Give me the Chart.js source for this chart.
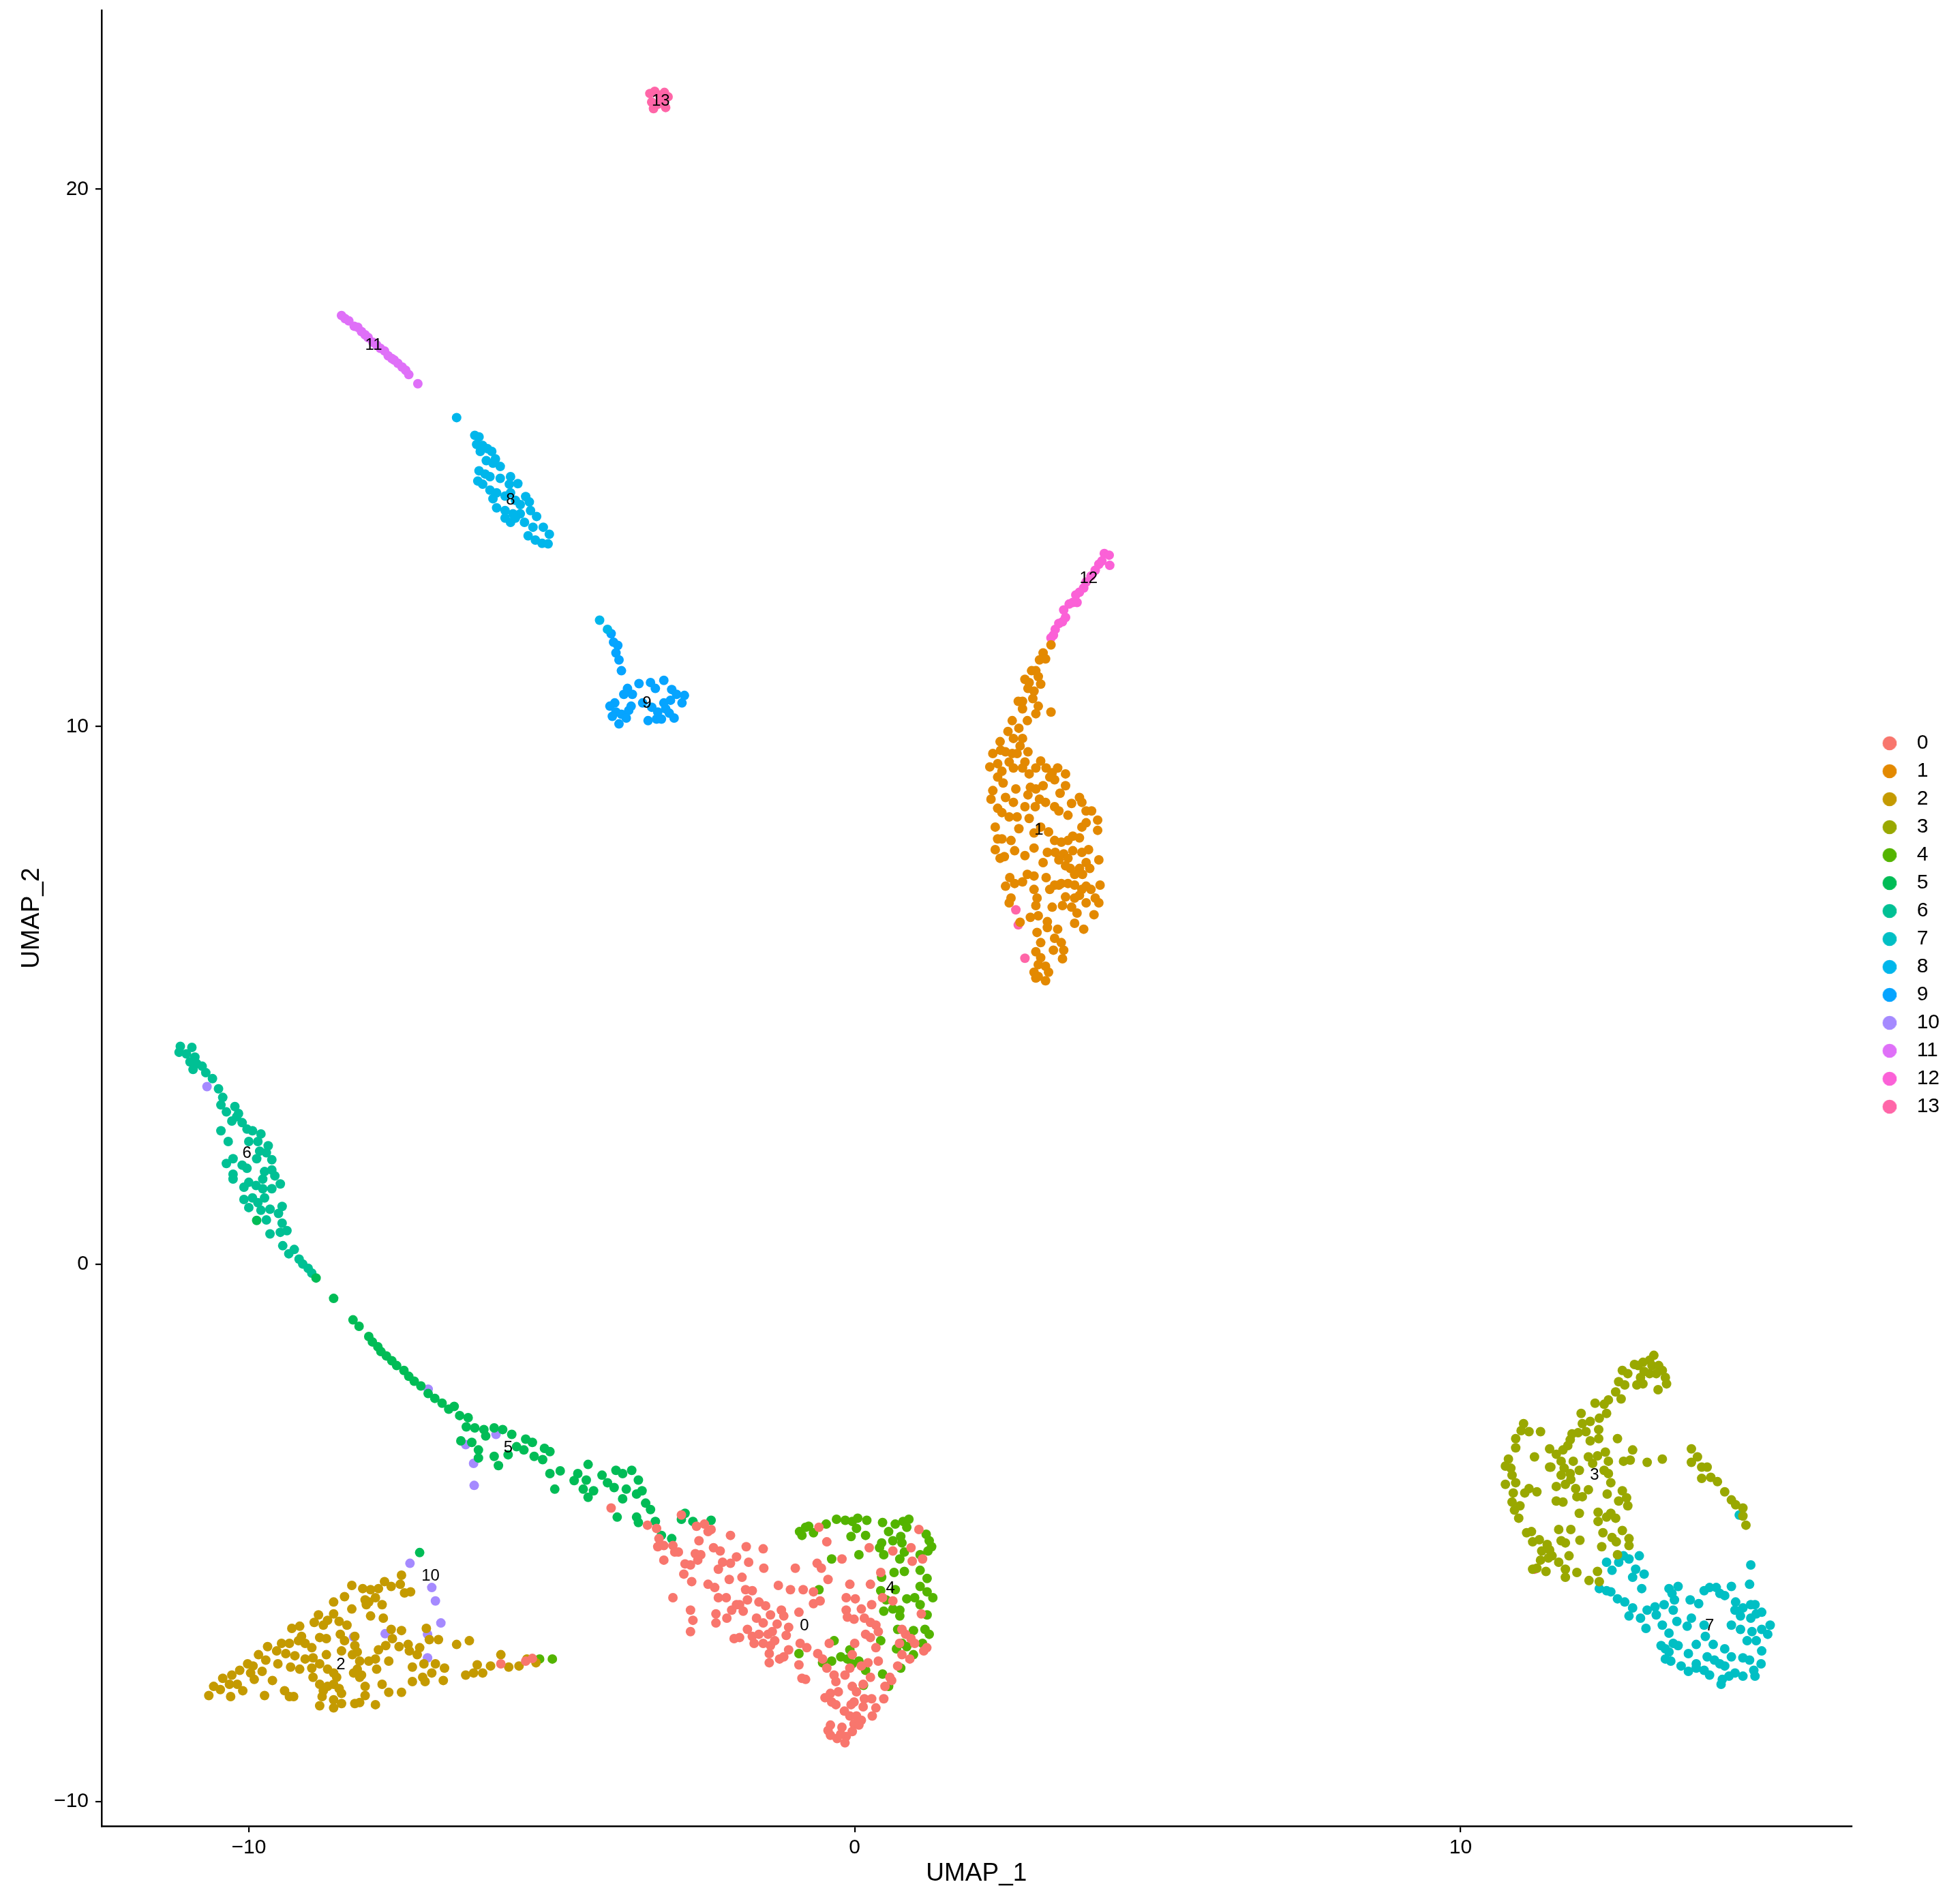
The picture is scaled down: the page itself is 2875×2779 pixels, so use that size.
<!DOCTYPE html>
<html>
<head>
<meta charset="utf-8">
<title>UMAP clusters</title>
<script src="https://cdn.jsdelivr.net/npm/chart.js@4.4.1/dist/chart.umd.min.js"></script>
<style>
  html, body { margin: 0; padding: 0; background: #fff; }
  canvas { display: block; width: 2875px; height: 2779px; }
</style>
</head>
<body>
<canvas id="umap" width="2875" height="2779"></canvas>
<script>
var clusterNames = ["0", "1", "2", "3", "4", "5", "6", "7", "8", "9", "10", "11", "12", "13"];
var clusterColors = ["#F8766D", "#E38900", "#C49A00", "#99A800", "#53B400", "#00BC56", "#00C094",
                     "#00BFC4", "#00B6EB", "#06A4FF", "#A58AFF", "#DF70F8", "#FB61D7", "#FF66A8"];

// axis limits and ticks
var xRange = [-12.43, 16.45];
var yRange = [-10.46, 23.33];
var xTicks = [-10, 0, 10];
var yTicks = [-10, 0, 10, 20];

// cluster label positions (centre of each cluster)
var labelX = [-0.83, 3.04, -8.48, 12.21, 0.59, -5.72, -10.03, 14.11, -5.68, -3.43, -7.00, -7.94, 3.86, -3.20];
var labelY = [-6.74, 8.07, -7.46, -3.93, -6.04, -3.42, 2.06, -6.74, 14.21, 10.43, -5.81, 17.10, 12.76, 21.64];

// cells per cluster, [UMAP_1, UMAP_2]
var c0 = [[-4.02,-4.54],[-3.42,-4.86],[-3.27,-4.92],[-3.23,-5.11],[-3.25,-5.26],[-3.15,-5.24],[-3.00,-5.24],[-2.97,-5.36],
  [-2.91,-5.36],[-3.15,-5.51],[-2.86,-4.67],[-2.61,-4.88],[-2.48,-4.84],[-2.42,-4.98],[-2.37,-4.94],[-2.57,-5.15],
  [-2.63,-5.39],[-2.54,-5.41],[-2.59,-5.51],[-2.80,-5.58],[-2.71,-5.60],[-2.82,-5.77],[-2.69,-5.91],[-3.00,-6.21],
  [-2.71,-6.44],[-2.67,-6.63],[-2.71,-6.84],[-2.29,-6.51],[-2.29,-6.68],[-2.42,-5.96],[-2.31,-6.02],[-2.25,-6.21],
  [-2.12,-6.21],[-2.11,-6.59],[-2.03,-6.44],[-1.95,-6.34],[-2.05,-5.05],[-1.79,-5.26],[-1.51,-5.30],[-2.33,-5.28],
  [-2.22,-5.34],[-2.18,-5.55],[-2.25,-5.68],[-2.05,-5.57],[-1.95,-5.45],[-1.75,-5.55],[-1.50,-5.66],[-2.07,-5.87],
  [-1.86,-5.83],[-1.80,-6.06],[-1.69,-6.08],[-1.90,-6.34],[-1.84,-6.46],[-1.77,-6.25],[-1.58,-6.29],[-1.47,-6.36],
  [-1.39,-6.53],[-1.62,-6.59],[-1.51,-6.68],[-1.77,-6.80],[-1.69,-6.93],[-1.58,-6.89],[-1.43,-6.89],[-1.36,-6.84],
  [-1.28,-6.70],[-1.21,-6.44],[-1.17,-6.55],[-1.09,-6.76],[-1.13,-6.91],[-1.99,-6.97],[-1.90,-6.95],[-1.66,-7.06],
  [-1.51,-7.06],[-1.39,-7.10],[-1.32,-7.01],[-1.41,-7.25],[-1.24,-7.35],[-1.17,-7.31],[-1.09,-7.18],[-1.41,-7.42],
  [-1.26,-5.98],[-1.06,-6.06],[-0.85,-6.06],[-0.68,-6.10],[-0.92,-6.48],[-0.98,-5.66],[-0.68,-6.32],[-0.57,-6.27],
  [-0.62,-5.57],[-0.55,-5.66],[-0.44,-5.87],[-0.46,-5.17],[-0.59,-4.90],[-0.21,-5.49],[-0.90,-7.06],[-0.79,-7.14],
  [-0.92,-7.46],[-0.87,-7.71],[-0.81,-7.73],[-0.61,-7.25],[-0.53,-7.35],[-0.42,-7.06],[-0.46,-7.52],[-0.34,-7.65],
  [-0.31,-7.77],[-0.40,-7.99],[-0.49,-8.07],[-0.38,-8.15],[-0.31,-8.20],[-0.27,-7.96],[-0.16,-7.65],[-0.08,-7.52],
  [0.00,-7.06],[-0.04,-7.27],[-0.08,-5.96],[-0.14,-6.21],[0.01,-6.23],[-0.14,-6.44],[-0.12,-6.57],[-0.01,-6.61],
  [0.11,-6.42],[0.16,-6.59],[0.28,-6.34],[0.26,-5.96],[0.24,-5.28],[0.43,-5.74],[0.46,-6.21],[0.63,-6.27],
  [0.63,-5.34],[0.93,-5.28],[0.95,-5.53],[1.12,-5.49],[1.06,-4.94],[1.10,-6.51],[0.26,-6.67],[0.35,-6.72],
  [0.39,-6.84],[0.18,-6.89],[0.26,-6.95],[0.35,-7.14],[0.22,-7.42],[0.39,-7.39],[0.11,-7.48],[0.26,-7.69],
  [0.14,-7.82],[-0.04,-7.86],[0.03,-7.96],[-0.01,-8.15],[0.16,-8.09],[0.28,-8.09],[0.48,-8.09],[-0.06,-8.20],
  [0.14,-8.24],[0.35,-8.26],[-0.17,-8.32],[-0.08,-8.41],[0.03,-8.41],[0.29,-8.41],[0.11,-8.49],[-0.01,-8.56],
  [-0.21,-8.62],[-0.40,-8.58],[-0.44,-8.68],[-0.40,-8.77],[-0.29,-8.83],[-0.16,-8.91],[-0.04,-8.70],[-0.14,-8.79],
  [-0.23,-8.75],[0.07,-8.58],[0.58,-7.69],[0.50,-7.86],[0.61,-7.75],[0.71,-7.48],[0.78,-7.27],[0.74,-7.06],
  [0.84,-6.89],[0.93,-6.97],[0.91,-7.35],[0.99,-7.06],[1.14,-7.20],[1.19,-7.14],[0.78,-6.80],[-5.84,-7.44],
  [-5.43,-7.39],[-5.32,-7.34]];

var c1 = [[3.24,11.52],[3.11,11.37],[3.05,11.24],[3.15,11.26],[2.92,11.04],[2.99,11.04],[2.81,10.88],[2.88,10.82],
  [3.03,10.93],[3.07,10.79],[2.96,10.66],[2.86,10.71],[2.77,10.47],[2.70,10.47],[2.94,10.52],[3.03,10.38],
  [2.99,10.24],[2.77,10.33],[2.85,10.11],[3.24,10.27],[2.60,10.11],[2.53,9.91],[2.71,9.97],[2.62,9.78],
  [2.77,9.78],[2.73,9.64],[2.40,9.72],[2.41,9.56],[2.28,9.50],[2.23,9.25],[2.36,9.31],[2.49,9.53],
  [2.60,9.50],[2.68,9.50],[2.86,9.53],[2.81,9.34],[2.62,9.23],[2.55,9.34],[2.43,9.17],[2.36,9.06],
  [2.45,8.95],[2.28,8.81],[2.25,8.65],[2.36,8.48],[2.43,8.40],[2.55,8.32],[2.68,8.32],[2.49,8.68],
  [2.62,8.59],[2.66,8.84],[2.77,9.23],[2.88,9.12],[2.99,9.23],[3.07,9.36],[3.16,9.23],[3.26,9.14],
  [3.35,9.23],[3.48,9.12],[3.30,9.01],[3.22,9.06],[3.11,8.90],[2.99,8.84],[2.90,8.87],[2.86,8.73],
  [2.81,8.51],[2.88,8.29],[2.98,8.51],[3.15,8.59],[3.05,8.65],[3.30,8.51],[3.37,8.43],[3.52,8.35],
  [3.39,8.76],[3.48,8.90],[3.58,8.57],[3.71,8.68],[3.75,8.59],[3.82,8.43],[3.91,8.43],[3.82,8.21],
  [4.01,8.26],[4.01,8.07],[3.75,8.13],[3.71,7.93],[3.60,7.96],[3.52,7.88],[3.41,7.85],[3.30,7.88],
  [3.20,8.04],[3.07,8.13],[2.96,8.02],[2.96,7.74],[2.81,7.60],[2.64,7.69],[2.58,7.88],[2.43,7.91],
  [2.36,7.91],[2.32,7.71],[2.40,7.55],[2.47,7.58],[2.71,8.10],[2.32,8.13],[3.31,7.66],[3.37,7.52],
  [3.18,7.66],[3.11,7.47],[3.45,7.63],[3.52,7.55],[3.60,7.69],[3.75,7.66],[3.86,7.71],[4.03,7.52],
  [3.82,7.47],[3.71,7.36],[3.56,7.36],[3.48,7.41],[3.88,7.36],[3.76,7.25],[3.63,7.25],[3.63,7.05],
  [3.52,7.08],[3.41,7.08],[3.30,7.05],[3.22,6.97],[3.16,7.19],[2.96,6.97],[2.85,7.25],[2.96,7.22],
  [2.77,7.11],[2.64,7.08],[2.56,7.19],[2.49,7.03],[2.58,6.81],[2.55,6.72],[2.73,6.36],[2.90,6.45],
  [3.03,6.48],[2.99,6.67],[3.01,6.81],[3.18,6.37],[3.26,6.64],[3.43,6.67],[3.58,6.64],[3.63,6.81],
  [3.71,6.86],[3.82,6.72],[3.67,6.53],[3.63,6.34],[3.78,6.23],[3.95,6.50],[4.03,6.72],[3.97,6.81],
  [4.05,7.05],[3.90,6.97],[3.82,7.03],[3.75,6.97],[3.48,6.83],[3.37,7.05],[3.18,6.26],[3.35,6.23],
  [3.30,6.06],[3.01,6.17],[3.07,5.98],[3.41,5.98],[3.45,5.84],[3.43,5.68],[3.28,5.84],[2.99,5.81],
  [3.07,5.70],[3.03,5.57],[3.15,5.54],[3.20,5.43],[2.96,5.43],[3.03,5.35],[3.15,5.27],[2.99,5.32]];

var c2 = [[-10.66,-8.03],[-10.58,-7.86],[-10.47,-7.92],[-10.43,-7.71],[-10.32,-7.82],[-10.30,-8.05],[-10.19,-7.82],[-10.10,-7.94],
  [-10.28,-7.65],[-10.15,-7.56],[-10.02,-7.44],[-9.93,-7.48],[-9.97,-7.61],[-9.91,-7.73],[-9.84,-7.27],[-9.78,-7.58],
  [-9.69,-7.12],[-9.72,-7.37],[-9.61,-7.75],[-9.54,-7.20],[-9.52,-7.44],[-9.46,-7.06],[-9.33,-7.06],[-9.41,-7.94],
  [-9.33,-8.05],[-9.26,-8.05],[-9.74,-8.03],[-9.39,-7.25],[-9.24,-7.29],[-9.31,-7.50],[-9.16,-7.54],[-9.29,-6.78],
  [-9.16,-6.74],[-9.13,-6.93],[-9.18,-7.01],[-9.07,-7.06],[-9.07,-7.35],[-8.96,-7.14],[-8.94,-7.33],[-8.96,-7.52],
  [-8.94,-7.69],[-8.83,-6.95],[-8.92,-6.67],[-8.85,-6.53],[-8.77,-6.72],[-8.70,-6.63],[-8.60,-6.51],[-8.60,-6.29],
  [-8.51,-6.65],[-8.38,-6.72],[-8.49,-6.89],[-8.72,-6.97],[-8.72,-7.27],[-8.83,-7.44],[-8.70,-7.54],[-8.60,-7.61],
  [-8.55,-7.69],[-8.47,-7.20],[-8.42,-7.01],[-8.25,-6.93],[-8.25,-7.10],[-8.29,-7.27],[-8.21,-7.22],[-8.17,-7.39],
  [-8.21,-7.54],[-8.17,-7.69],[-8.08,-7.86],[-8.14,-7.65],[-8.27,-7.61],[-8.83,-7.82],[-8.77,-7.94],[-8.70,-7.86],
  [-8.60,-7.82],[-8.51,-7.90],[-8.47,-7.99],[-8.79,-8.05],[-8.60,-8.11],[-8.83,-8.22],[-8.60,-8.26],[-8.47,-8.18],
  [-8.25,-8.18],[-8.17,-8.16],[-8.08,-8.03],[-7.91,-8.20],[-8.42,-6.19],[-8.30,-5.98],[-8.12,-6.04],[-7.99,-6.06],
  [-7.86,-6.04],[-7.91,-6.21],[-8.02,-6.29],[-8.08,-6.25],[-8.06,-6.34],[-7.80,-6.34],[-7.78,-6.59],[-7.99,-6.55],
  [-8.30,-6.42],[-7.76,-5.91],[-7.65,-6.00],[-7.48,-5.79],[-7.50,-5.96],[-7.43,-6.12],[-7.33,-6.10],[-7.65,-6.80],
  [-7.48,-6.82],[-7.63,-6.97],[-7.74,-7.10],[-7.86,-7.18],[-7.91,-7.35],[-8.02,-7.39],[-7.69,-7.39],[-7.89,-7.54],
  [-7.52,-7.12],[-7.37,-7.08],[-7.35,-7.20],[-7.18,-7.14],[-7.22,-7.27],[-7.07,-6.78],[-7.02,-6.99],[-6.87,-6.99],
  [-6.57,-7.08],[-6.36,-7.01],[-7.11,-7.44],[-6.92,-7.44],[-6.98,-7.61],[-6.77,-7.52],[-6.79,-7.75],[-7.13,-7.69],
  [-7.09,-7.77],[-7.30,-7.77],[-7.30,-7.50],[-7.80,-7.82],[-7.69,-7.97],[-7.48,-7.97],[-6.42,-7.65],[-6.23,-7.46],
  [-6.29,-7.61],[-6.14,-7.61],[-6.01,-7.48],[-5.84,-7.27],[-5.71,-7.50],[-5.54,-7.48],[-5.41,-7.35],[-5.26,-7.42]];

var c3 = [[13.19,-1.70],[13.12,-1.79],[13.01,-1.83],[12.93,-1.89],[12.87,-1.87],[13.16,-1.89],[13.27,-1.89],[13.33,-1.98],
  [13.23,-2.04],[13.12,-2.04],[13.03,-2.00],[12.97,-2.11],[13.38,-2.11],[13.40,-2.23],[13.26,-2.34],[13.01,-2.23],
  [12.91,-2.25],[12.67,-1.98],[12.76,-2.04],[12.61,-2.19],[12.71,-2.25],[12.56,-2.38],[12.65,-2.51],[12.44,-2.53],
  [12.37,-2.61],[12.41,-2.78],[12.22,-2.59],[12.29,-2.87],[12.14,-2.93],[11.99,-2.78],[12.01,-2.97],[12.07,-3.12],
  [12.28,-3.08],[12.28,-3.25],[12.14,-3.29],[11.84,-3.16],[11.94,-3.14],[11.81,-3.27],[11.77,-3.38],[11.69,-3.46],
  [11.47,-3.44],[11.32,-3.12],[11.04,-2.97],[11.00,-3.10],[11.13,-3.12],[10.91,-3.25],[10.91,-3.42],[10.79,-3.63],
  [10.74,-3.76],[10.83,-3.80],[10.85,-3.93],[10.74,-4.10],[10.91,-4.07],[10.87,-4.26],[11.06,-4.26],[11.13,-4.18],
  [11.26,-4.24],[10.85,-4.43],[10.98,-4.50],[10.89,-4.58],[10.96,-4.73],[11.09,-5.00],[11.17,-4.98],[11.19,-5.17],
  [11.30,-5.13],[11.43,-5.22],[11.34,-5.34],[11.47,-5.32],[11.51,-5.43],[11.45,-5.47],[11.32,-5.51],[11.26,-5.66],
  [11.19,-5.68],[11.41,-5.72],[11.62,-5.55],[11.73,-5.68],[11.73,-5.83],[11.92,-5.74],[12.12,-5.89],[12.26,-5.72],
  [12.29,-5.91],[11.66,-5.15],[11.73,-5.19],[11.79,-5.43],[11.62,-4.94],[11.82,-4.94],[11.97,-5.14],[11.96,-4.64],
  [11.58,-4.41],[11.69,-4.43],[11.58,-4.14],[11.73,-4.10],[11.49,-3.78],[11.58,-3.54],[11.66,-3.67],[11.71,-3.80],
  [11.66,-3.93],[11.81,-3.90],[11.86,-3.67],[11.82,-4.01],[11.96,-3.84],[11.90,-4.18],[11.92,-4.33],[12.01,-4.33],
  [12.11,-4.20],[12.11,-3.59],[12.18,-3.71],[12.26,-3.57],[12.39,-3.50],[12.44,-3.67],[12.37,-3.84],[12.44,-3.90],
  [12.48,-4.07],[12.42,-4.28],[12.27,-4.62],[12.27,-4.79],[12.41,-4.71],[12.56,-4.73],[12.48,-4.64],[12.35,-5.00],
  [12.33,-5.26],[12.50,-5.09],[12.57,-5.17],[12.67,-4.96],[12.78,-5.11],[12.78,-5.24],[12.59,-5.41],[12.67,-4.22],
  [12.74,-4.35],[12.61,-4.41],[12.76,-4.50],[12.59,-3.25],[12.69,-3.67],[12.80,-3.65],[12.84,-3.46],[13.08,-3.69],
  [13.33,-3.63],[13.81,-3.44],[13.91,-3.59],[13.81,-3.69],[13.98,-3.78],[14.07,-3.78],[13.98,-3.99],[14.13,-3.97],
  [14.24,-4.05],[14.36,-4.24],[14.47,-4.39],[14.54,-4.48],[14.66,-4.54],[14.66,-4.69],[14.71,-4.86],[11.22,-3.59],
  [11.47,-3.78]];

var c4 = [[-0.91,-4.98],[-0.81,-4.90],[-0.76,-4.88],[-0.68,-5.00],[-0.87,-5.05],[-0.47,-4.84],[-0.30,-4.75],[-0.155,-4.77],
  [-0.04,-4.79],[0.05,-4.73],[0.20,-4.77],[0.03,-4.92],[-0.06,-5.07],[0.18,-5.05],[0.07,-5.41],[-0.38,-5.49],
  [0.46,-4.81],[0.67,-4.84],[0.80,-4.79],[0.895,-4.75],[0.86,-4.90],[0.56,-4.98],[0.76,-5.07],[0.445,-5.19],
  [0.63,-5.15],[0.78,-5.19],[0.82,-5.36],[0.745,-5.49],[0.48,-5.41],[0.41,-5.28],[1.18,-5.03],[1.23,-5.15],
  [1.27,-5.26],[1.21,-5.34],[1.08,-5.41],[1.08,-5.70],[1.195,-5.85],[1.08,-6.00],[1.195,-6.10],[1.29,-6.21],
  [0.99,-6.21],[1.08,-6.34],[0.86,-6.23],[0.65,-5.74],[0.82,-5.72],[0.445,-5.83],[0.43,-6.08],[0.67,-6.06],
  [0.52,-6.25],[0.48,-6.46],[0.63,-6.42],[0.745,-6.55],[1.195,-6.53],[0.71,-6.80],[0.97,-6.82],[1.16,-6.80],
  [1.23,-6.89],[1.12,-7.06],[0.78,-7.06],[0.86,-7.12],[0.97,-7.27],[0.69,-7.16],[0.76,-7.52],[-0.59,-6.06],
  [-0.34,-7.01],[-0.92,-7.25],[-0.53,-7.42],[-0.38,-7.39],[-0.23,-7.31],[-0.08,-7.18],[-0.12,-7.35],[-0.04,-7.44],
  [0.07,-7.39],[0.18,-7.56],[0.145,-7.84],[0.46,-7.63],[0.56,-7.86],[0.43,-7.01],[0.745,-6.44],[-5.20,-7.35],
  [-4.99,-7.35]];

var c5 = [[-9.87,0.81],[-8.89,-0.26],[-8.60,-0.64],[-8.28,-1.04],[-8.18,-1.16],[-8.02,-1.35],[-7.96,-1.45],[-7.87,-1.54],
  [-7.82,-1.63],[-7.73,-1.71],[-7.64,-1.80],[-7.56,-1.89],[-7.44,-1.98],[-7.36,-2.09],[-7.27,-2.18],[-7.16,-2.27],
  [-7.04,-2.41],[-6.93,-2.50],[-6.81,-2.59],[-6.70,-2.70],[-6.61,-2.65],[-6.52,-2.82],[-6.38,-2.86],[-6.41,-3.03],
  [-6.27,-3.05],[-6.12,-3.08],[-5.95,-3.05],[-5.81,-3.08],[-5.66,-3.17],[-6.09,-3.20],[-6.50,-3.29],[-6.32,-3.32],
  [-6.21,-3.46],[-6.21,-3.61],[-5.95,-3.58],[-5.88,-3.75],[-5.72,-3.55],[-5.58,-3.40],[-5.43,-3.26],[-5.32,-3.32],
  [-5.46,-3.46],[-5.29,-3.58],[-5.12,-3.43],[-5.03,-3.49],[-5.15,-3.64],[-5.03,-3.90],[-4.86,-3.85],[-4.95,-4.19],
  [-4.57,-3.90],[-4.63,-4.03],[-4.40,-3.73],[-4.43,-4.02],[-4.48,-4.19],[-4.31,-4.22],[-4.40,-4.34],[-4.17,-3.93],
  [-4.08,-4.07],[-3.94,-3.84],[-3.83,-3.90],[-3.68,-3.84],[-3.97,-4.16],[-3.77,-4.19],[-3.57,-4.02],[-3.51,-4.22],
  [-3.83,-4.37],[-3.60,-4.28],[-3.45,-4.45],[-3.37,-4.57],[-3.92,-4.71],[-3.60,-4.71],[-3.57,-4.81],[-3.29,-4.79],
  [-3.19,-5.05],[-3.02,-5.11],[-2.80,-4.64],[-2.86,-4.75],[-2.67,-4.79],[-2.37,-4.77],[-7.18,-5.37]];

var c6 = [[-11.13,4.05],[-11.15,3.94],[-10.94,4.03],[-11.03,3.91],[-10.89,3.85],[-10.97,3.76],[-10.86,3.73],[-10.77,3.68],
  [-10.92,3.62],[-10.71,3.56],[-10.60,3.45],[-10.50,3.26],[-10.43,3.10],[-10.46,2.96],[-10.23,2.93],[-10.37,2.83],
  [-10.17,2.80],[-10.28,2.66],[-10.11,2.63],[-10.20,2.74],[-10.03,2.51],[-9.94,2.48],[-9.80,2.42],[-10.46,2.48],
  [-10.34,2.28],[-10.00,2.28],[-9.85,2.28],[-9.68,2.20],[-9.82,2.10],[-9.71,2.07],[-9.62,1.94],[-9.87,1.96],
  [-10.37,1.87],[-10.26,1.96],[-10.11,1.84],[-10.03,1.78],[-10.26,1.67],[-10.26,1.58],[-9.74,1.72],[-9.62,1.75],
  [-9.57,1.64],[-9.77,1.58],[-9.48,1.49],[-9.62,1.40],[-10.08,1.43],[-10.00,1.52],[-9.88,1.46],[-9.77,1.40],
  [-10.08,1.20],[-9.94,1.23],[-9.85,1.14],[-10.00,1.05],[-9.74,1.23],[-9.80,1.00],[-9.65,1.02],[-9.45,1.07],
  [-9.51,0.94],[-9.71,0.82],[-9.45,0.76],[-9.37,0.62],[-9.65,0.56],[-9.48,0.59],[-9.44,0.34],[-9.25,0.27],
  [-9.34,0.19],[-9.17,0.09],[-9.11,0.00],[-9.02,-0.08],[-8.96,-0.17]];

var c7 = [[12.41,-5.55],[12.50,-5.70],[12.69,-5.43],[12.78,-5.49],[12.61,-5.55],[12.95,-5.43],[12.89,-5.68],[13.03,-5.77],
  [12.84,-5.83],[12.99,-6.04],[12.29,-6.04],[12.41,-6.08],[12.48,-6.10],[12.59,-6.23],[12.71,-6.29],[12.84,-6.40],
  [12.78,-6.55],[12.97,-6.59],[13.06,-6.78],[13.08,-6.44],[13.21,-6.38],[13.23,-6.53],[13.33,-6.72],[13.44,-6.87],
  [13.36,-6.34],[13.44,-6.04],[13.49,-6.13],[13.59,-6.00],[13.53,-6.25],[13.51,-6.44],[13.57,-6.65],[13.74,-6.74],
  [13.81,-6.59],[13.79,-6.25],[13.93,-6.32],[14.02,-6.08],[14.11,-6.02],[14.22,-6.02],[14.28,-6.13],[14.36,-6.17],
  [14.47,-6.00],[14.54,-6.29],[14.66,-6.40],[14.79,-6.34],[14.86,-6.34],[14.53,-6.44],[14.62,-6.55],[14.79,-6.59],
  [14.88,-6.51],[14.97,-6.48],[15.11,-6.72],[15.07,-6.89],[14.97,-6.80],[14.81,-6.84],[14.62,-6.80],[14.47,-6.72],
  [14.73,-7.01],[14.88,-7.01],[14.97,-7.20],[14.79,-5.60],[14.77,-5.96],[14.66,-7.33],[14.77,-7.37],[14.96,-7.44],
  [14.84,-7.56],[14.66,-7.67],[14.86,-7.67],[14.53,-7.61],[14.43,-7.67],[14.32,-7.73],[14.30,-7.82],[14.36,-7.48],
  [14.47,-7.31],[14.36,-7.16],[14.17,-7.08],[14.04,-6.93],[14.02,-6.72],[13.89,-7.08],[13.76,-7.25],[13.89,-7.44],
  [14.07,-7.31],[14.19,-7.37],[14.28,-7.44],[14.11,-7.65],[14.02,-7.56],[13.89,-7.52],[13.76,-7.58],[13.64,-7.48],
  [13.47,-7.39],[13.38,-7.35],[13.44,-7.22],[13.31,-7.10],[13.51,-7.06],[13.59,-7.10],[13.38,-7.16],[14.60,-4.67]];

var c8 = [[-6.57,15.75],[-6.27,15.42],[-6.20,15.39],[-6.24,15.25],[-6.14,15.23],[-6.06,15.17],[-6.18,15.12],[-5.99,15.12],
  [-6.08,14.95],[-5.97,14.90],[-5.85,14.84],[-5.93,14.98],[-6.20,14.76],[-6.10,14.70],[-6.02,14.65],[-6.22,14.57],
  [-6.14,14.51],[-5.85,14.62],[-5.68,14.65],[-5.56,14.52],[-5.70,14.51],[-6.02,14.40],[-5.91,14.35],[-5.97,14.24],
  [-5.77,14.29],[-5.68,14.35],[-5.60,14.21],[-5.43,14.28],[-5.52,14.13],[-5.37,14.18],[-5.91,14.07],[-5.77,14.02],
  [-5.64,13.96],[-5.52,13.96],[-5.35,14.02],[-5.25,13.91],[-5.45,13.80],[-5.68,13.80],[-5.31,13.71],[-5.14,13.71],
  [-5.04,13.58],[-5.39,13.55],[-5.27,13.47],[-5.16,13.41],[-5.06,13.40],[-5.77,13.88],[-5.60,13.88],[-4.21,11.98],
  [-4.08,11.81]];

var c9 = [[-4.02,11.73],[-3.98,11.57],[-3.91,11.51],[-3.94,11.37],[-3.89,11.24],[-3.85,11.04],[-3.56,10.80],[-3.37,10.82],
  [-3.29,10.71],[-3.15,10.86],[-3.75,10.71],[-3.67,10.60],[-3.81,10.60],[-3.96,10.44],[-4.04,10.38],[-3.94,10.27],
  [-4.00,10.19],[-3.85,10.23],[-3.73,10.30],[-3.89,10.05],[-3.77,10.16],[-3.50,10.44],[-3.41,10.11],[-3.27,10.14],
  [-3.25,10.27],[-3.15,10.44],[-3.02,10.69],[-2.94,10.60],[-2.81,10.58],[-2.85,10.44],[-3.04,10.49],[-3.12,10.33],
  [-2.98,10.16],[-3.06,10.25],[-3.19,10.14],[-3.35,10.36],[-3.69,10.38]];

var c10 = [[-10.69,3.30],[-7.04,-2.33],[-5.92,-3.17],[-6.42,-3.36],[-6.29,-3.71],[-6.28,-4.12],[-7.34,-5.57],[-6.98,-6.02],
  [-6.92,-6.27],[-6.83,-6.68],[-7.05,-6.89],[-7.75,-6.88],[-8.27,-6.94],[-7.05,-7.33]];

var c11 = [[-8.47,17.65],[-8.41,17.59],[-8.35,17.55],[-8.26,17.45],[-8.20,17.43],[-8.14,17.35],[-8.08,17.29],[-8.03,17.24],
  [-7.95,17.15],[-7.89,17.10],[-7.83,17.04],[-7.76,16.99],[-7.70,16.90],[-7.64,16.85],[-7.60,16.82],[-7.54,16.76],
  [-7.47,16.69],[-7.41,16.63],[-7.36,16.55],[-7.21,16.38]];

var c12 = [[4.12,13.22],[4.20,13.19],[4.21,13.00],[4.08,13.08],[4.03,13.02],[3.97,12.91],[3.90,12.80],[3.82,12.69],
  [3.78,12.58],[3.71,12.50],[3.65,12.45],[3.67,12.31],[3.60,12.31],[3.54,12.28],[3.45,12.17],[3.48,12.03],
  [3.43,11.95],[3.37,11.92],[3.31,11.81],[3.28,11.70],[3.24,11.65]];

var c13 = [[-3.38,21.78],[-3.30,21.82],[-3.22,21.75],[-3.14,21.80],[-3.08,21.72],[-3.35,21.62],[-3.25,21.58],[-3.15,21.60],
  [-3.32,21.50],[-3.12,21.52],[-3.20,21.67],[2.66,6.59],[2.70,6.31],[2.81,5.69],[11.22,-5.68]];

var clusters = [c0, c1, c2, c3, c4, c5, c6, c7, c8, c9, c10, c11, c12, c13];
var fontFamily = '"Liberation Sans", Arial, Helvetica, sans-serif';

// round legend key; the dot sits right of the key box centre
function legendDot(color) {
    var c = document.createElement("canvas");
    c.width = 40;
    c.height = 22;
    var g = c.getContext("2d");
    g.fillStyle = color;
    g.beginPath();
    g.arc(30, 11, 10.3, 0, Math.PI * 2);
    g.fill();
    return c;
}

function tickText(value) {
    return value < 0 ? "\u2212" + Math.abs(value) : String(value);
}

// no extra room for the outer tick labels, the panel keeps its own size
function fixAxis(size, key) {
    return function(scale) {
        scale[key] = size;
        scale.paddingTop = 0;
        scale.paddingBottom = 0;
        scale.paddingLeft = 0;
        scale.paddingRight = 0;
    };
}

var clusterLabels = {
    id: "clusterLabels",
    afterDatasetsDraw: function(chart) {
        var ctx = chart.ctx;
        var xs = chart.scales.x;
        var ys = chart.scales.y;
        ctx.save();
        ctx.font = "24px " + fontFamily;
        ctx.fillStyle = "#000";
        ctx.textAlign = "center";
        ctx.textBaseline = "middle";
        for (var i = 0; i < clusterNames.length; i++) {
            ctx.fillText(clusterNames[i], xs.getPixelForValue(labelX[i]), ys.getPixelForValue(labelY[i]));
        }
        ctx.restore();
    }
};

var datasets = clusters.map(function(points, i) {
    return {
        label: clusterNames[i],
        data: points,
        backgroundColor: clusterColors[i],
        borderWidth: 0,
        pointRadius: 7,
        pointHoverRadius: 7
    };
});

var context = document.getElementById("umap");
window.umapChart = new Chart(context, {
    type: "scatter",
    data: { datasets: datasets },
    options: {
        responsive: false,
        animation: false,
        devicePixelRatio: 1,
        events: [],
        layout: { padding: { top: 15, right: 20, bottom: 0, left: 0 } },
        plugins: {
            tooltip: { enabled: false },
            legend: {
                position: "right",
                fullSize: false,
                // empty title only pushes the keys down a little
                title: { display: true, text: "", padding: 0, font: { family: fontFamily, size: 20, lineHeight: 1 } },
                labels: {
                    usePointStyle: true,
                    pointStyleWidth: 70,
                    padding: 11,
                    color: "#000",
                    font: { family: fontFamily, size: 30 },
                    generateLabels: function(chart) {
                        var items = Chart.defaults.plugins.legend.labels.generateLabels(chart);
                        return items.map(function(item) {
                            item.pointStyle = legendDot(clusterColors[item.datasetIndex]);
                            return item;
                        });
                    }
                }
            }
        },
        scales: {
            x: {
                type: "linear",
                min: xRange[0],
                max: xRange[1],
                afterFit: fixAxis(101, "height"),
                afterBuildTicks: function(scale) {
                    scale.ticks = xTicks.map(function(v) { return { value: v }; });
                },
                grid: { drawOnChartArea: false, drawTicks: true, tickLength: 9, color: "#000", lineWidth: 2.2 },
                border: { display: true, color: "#000", width: 2.5 },
                ticks: { color: "#000", font: { family: fontFamily, size: 30 }, padding: 5, maxRotation: 0, callback: tickText },
                title: { display: true, text: "UMAP_1", color: "#000", font: { family: fontFamily, size: 37 }, padding: { top: 0, bottom: 9 } }
            },
            y: {
                type: "linear",
                min: yRange[0],
                max: yRange[1],
                afterFit: fixAxis(149, "width"),
                afterBuildTicks: function(scale) {
                    scale.ticks = yTicks.map(function(v) { return { value: v }; });
                },
                grid: { drawOnChartArea: false, drawTicks: true, tickLength: 9, color: "#000", lineWidth: 2.2 },
                border: { display: true, color: "#000", width: 2.5 },
                ticks: { color: "#000", font: { family: fontFamily, size: 30 }, padding: 10, callback: tickText },
                title: { display: true, text: "UMAP_2", color: "#000", font: { family: fontFamily, size: 37 }, padding: { top: 25, bottom: 0 } }
            }
        }
    },
    plugins: [clusterLabels]
});
</script>
</body>
</html>
